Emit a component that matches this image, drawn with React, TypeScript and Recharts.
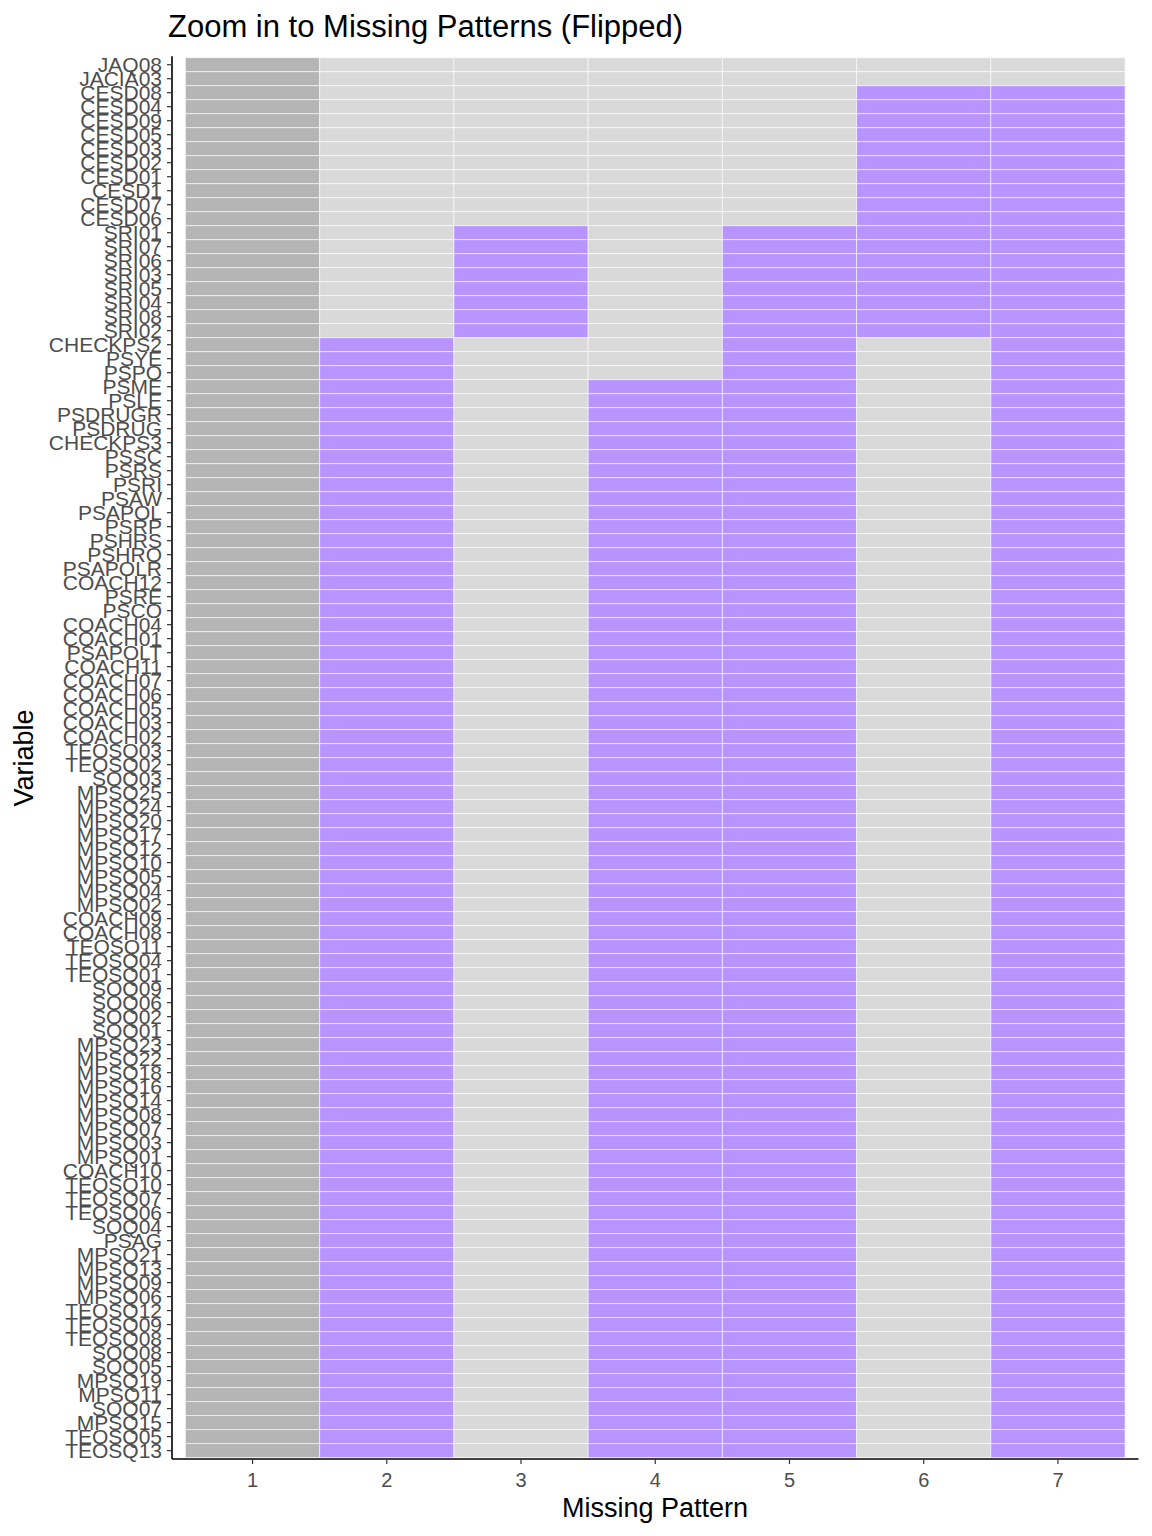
import React from 'react';
import { BarChart, Bar, XAxis, YAxis, Cell } from 'recharts';

// variables, top to bottom as they appear on the y axis
const variables = [
  'JAQ08', 'JACIA03', 'CESD08', 'CESD04', 'CESD09', 'CESD05', 'CESD03', 'CESD02', 'CESD01', 'CESD1',
  'CESD07', 'CESD06', 'SRI01', 'SRI07', 'SRI06', 'SRI03', 'SRI05', 'SRI04', 'SRI08', 'SRI02',
  'CHECKPS2', 'PSYE', 'PSPO', 'PSME', 'PSLE', 'PSDRUGR', 'PSDRUG', 'CHECKPS3', 'PSSC', 'PSRS',
  'PSRI', 'PSAW', 'PSAPOL', 'PSRP', 'PSHRS', 'PSHRO', 'PSAPOLR', 'COACH12', 'PSRE', 'PSCO',
  'COACH04', 'COACH01', 'PSAPOLT', 'COACH11', 'COACH07', 'COACH06', 'COACH05', 'COACH03', 'COACH02', 'TEOSQ03',
  'TEOSQ02', 'SOQ03', 'MPSQ25', 'MPSQ24', 'MPSQ20', 'MPSQ17', 'MPSQ12', 'MPSQ10', 'MPSQ05', 'MPSQ04',
  'MPSQ02', 'COACH09', 'COACH08', 'TEOSQ11', 'TEOSQ04', 'TEOSQ01', 'SOQ09', 'SOQ06', 'SOQ02', 'SOQ01',
  'MPSQ23', 'MPSQ22', 'MPSQ18', 'MPSQ16', 'MPSQ14', 'MPSQ08', 'MPSQ07', 'MPSQ03', 'MPSQ01', 'COACH10',
  'TEOSQ10', 'TEOSQ07', 'TEOSQ06', 'SOQ04', 'PSAG', 'MPSQ21', 'MPSQ13', 'MPSQ09', 'MPSQ06', 'TEOSQ12',
  'TEOSQ09', 'TEOSQ08', 'SOQ08', 'SOQ05', 'MPSQ19', 'MPSQ11', 'SOQ07', 'MPSQ15', 'TEOSQ05', 'TEOSQ13',
];

const patternLabels = ['1', '2', '3', '4', '5', '6', '7'];

// missing blocks per pattern: [first variable, last variable]
const missingBlocks: [string, string][][] = [
  [],
  [['CHECKPS2', 'TEOSQ13']],
  [['SRI01', 'SRI02']],
  [['PSME', 'TEOSQ13']],
  [['SRI01', 'TEOSQ13']],
  [['CESD08', 'SRI02']],
  [['CESD08', 'TEOSQ13']],
];

const COMPLETE = '#B5B5B5';
const OBSERVED = '#D9D9D9';
const MISSING = '#B794FF';
const FONT = '"Liberation Sans", Arial, Helvetica, sans-serif';

const PAD = 0.1; // ggplot discrete expansion beyond the tiles

const isMissing = (p: number, i: number) =>
  missingBlocks[p].some(([a, b]) => i >= variables.indexOf(a) && i <= variables.indexOf(b));

const rows = variables.map((name) => {
  const row: Record<string, string | number> = { name, pad: PAD };
  patternLabels.forEach((_, p) => { row['p' + p] = 1; });
  return row;
});

const xTicks = patternLabels.map((_, p) => PAD + p + 0.5);

const App: React.FC = () => {
  return (
    <div style={{ position: 'absolute', left: 0, top: 0, width: 1152, height: 1536, background: '#fff', fontFamily: FONT }}>
      <BarChart
        width={1152}
        height={1536}
        data={rows}
        layout="vertical"
        barCategoryGap={0}
        barGap={0}
        margin={{ top: 56.3, right: 13.5, left: 0, bottom: 27 }}
      >
        <XAxis
          type="number"
          domain={[0, patternLabels.length + 2 * PAD]}
          ticks={xTicks}
          tickFormatter={(v: number) => patternLabels[Math.round(v - PAD - 0.5)]}
          height={50}
          tickSize={5}
          tickMargin={9}
          axisLine={{ stroke: '#000', strokeWidth: 1.6 }}
          tickLine={{ stroke: '#333', strokeWidth: 1.2 }}
          tick={{ fill: '#4D4D4D', fontSize: 20, fontFamily: FONT }}
        />
        <YAxis
          type="category"
          dataKey="name"
          width={172}
          interval={0}
          padding={{ top: 1.4, bottom: 1.4 }}
          tickSize={5}
          tickMargin={5}
          axisLine={{ stroke: '#000', strokeWidth: 1.6 }}
          tickLine={{ stroke: '#333', strokeWidth: 1.2 }}
          tick={{ fill: '#4D4D4D', fontSize: 21, fontFamily: FONT }}
        />
        <Bar dataKey="pad" stackId="s" fill="transparent" isAnimationActive={false} />
        {patternLabels.map((label, p) => (
          <Bar key={label} dataKey={'p' + p} stackId="s" isAnimationActive={false}>
            {rows.map((_, i) => (
              <Cell
                key={i}
                fill={p === 0 ? COMPLETE : isMissing(p, i) ? MISSING : OBSERVED}
                stroke="#ffffff"
                strokeOpacity={0.7}
                strokeWidth={0.8}
              />
            ))}
          </Bar>
        ))}
      </BarChart>
      <svg width={1152} height={1536} style={{ position: 'absolute', left: 0, top: 0, pointerEvents: 'none' }}>
        <text x={168} y={37} fontSize={31} fill="#000" fontFamily={FONT}>
          Zoom in to Missing Patterns (Flipped)
        </text>
        <text x={655} y={1517} fontSize={27} fill="#000" textAnchor="middle" fontFamily={FONT}>
          Missing Pattern
        </text>
        <text transform="translate(33, 758) rotate(-90)" fontSize={27} fill="#000" textAnchor="middle" fontFamily={FONT}>
          Variable
        </text>
      </svg>
    </div>
  );
};

export default App;
